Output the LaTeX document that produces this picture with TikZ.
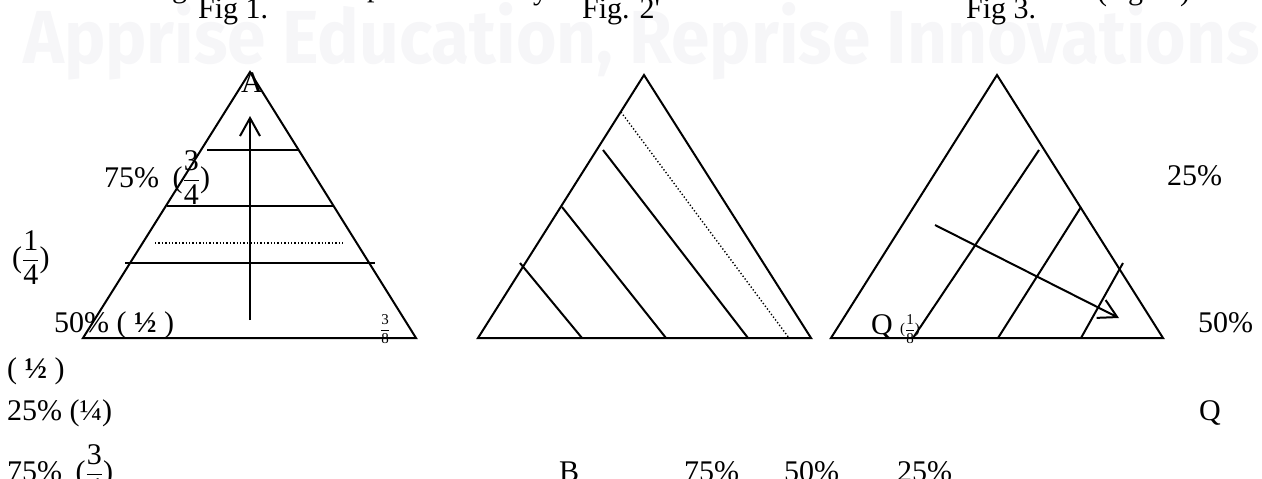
\documentclass[tikz,border=0pt]{standalone}
\usepackage{amsmath}
\usepackage{fontspec}
\setmainfont{Liberation Serif}
\newfontfamily\wmfont{Fira Sans}
\usetikzlibrary{arrows.meta}
\definecolor{wm}{RGB}{246,246,248}
\newcommand\bigfr[2]{$\dfrac{\mbox{#1}}{\mbox{#2}}$}
\tikzset{
  edge/.style={line width=2pt, line join=miter},
  dotline/.style={line width=1.4pt, dash pattern=on 1.3pt off 2.1pt},
  arr/.style={line width=2pt, -{Straight Barb[length=18pt,width=20pt,line width=2pt]}},
  lbl/.style={inner sep=0pt, anchor=base west, font=\fontsize{30}{36}\selectfont},
  sml/.style={inner sep=0pt, font=\fontsize{15}{18}\selectfont},
}
\begin{document}
\begin{tikzpicture}[x=1pt,y=-1pt]
\useasboundingbox (0,0) rectangle (1262,479);
\clip (0,0) rectangle (1262,479);
% watermark
\node[inner sep=0pt, anchor=north west, text=wm] (wmark) at (23,2)
  {\resizebox{1236pt}{61pt}{\wmfont\bfseries Apprise Education, Reprise Innovations}};
% fragments of the line above
\node[lbl] (fg) at (172,-2) {g};
\node[lbl] (fp) at (367,-3) {p};
\node[lbl] (fy) at (533,-1) {y};
\node[lbl] (fo) at (1097,1) {(};
\node[lbl] (fgg) at (1128,-1) {g};
\node[lbl] (fc) at (1180,1) {)};
% titles
\node[lbl] (fig1) at (198,18) {Fig 1.};
\node[lbl] (fig2) at (582,18) {Fig. 2\textquotesingle};
\node[lbl] (fig3) at (966,18) {Fig 3.};

% ---------- Fig 1 ----------
\coordinate (A1) at (250,72);
\coordinate (B1) at (83,338);
\coordinate (C1) at (416,338);
\draw[edge] (A1) -- (B1) -- (C1) -- cycle;
\coordinate (h1a) at (207,150); \coordinate (h1b) at (299,150);
\coordinate (h2a) at (167,206); \coordinate (h2b) at (333,206);
\coordinate (h3a) at (125,263); \coordinate (h3b) at (375,263);
\coordinate (d1a) at (155,243); \coordinate (d1b) at (345,243);
\draw[edge] (h1a) -- (h1b);
\draw[edge] (h2a) -- (h2b);
\draw[edge] (h3a) -- (h3b);
\draw[dotline] (d1a) -- (d1b);
\coordinate (v1s) at (250,320); \coordinate (v1e) at (250,116);
\draw[arr] (v1s) -- (v1e);
\node[lbl] (labA) at (241,92) {A};
\node[lbl] (l75a) at (104,187) {75\%\hspace{0.45em}(\bigfr{3}{4})};
\node[lbl] (lq) at (12,267) {(\bigfr{1}{4})};
\node[lbl] (l50a) at (54,332) {50\% ( \textbf{½} )};
\node[sml] (l38) at (385,329) {\bigfr{3}{8}};
\node[lbl] (lhalf) at (7,378) {( \textbf{½} )};
\node[lbl] (l25a) at (7,420) {25\% (¼)};
\node[lbl] (l75b) at (7,481) {75\%\hspace{0.45em}(\bigfr{3}{4})};

% ---------- Fig 2 ----------
\coordinate (A2) at (644,75);
\coordinate (B2) at (478,338);
\coordinate (C2) at (811,338);
\draw[edge] (A2) -- (B2) -- (C2) -- cycle;
\coordinate (a2s) at (520,263); \coordinate (a2e) at (582,338);
\coordinate (b2s) at (562,207); \coordinate (b2e) at (666,338);
\coordinate (c2s) at (603,150); \coordinate (c2e) at (748,338);
\coordinate (d2s) at (621,112); \coordinate (d2e) at (789,338);
\draw[edge] (a2s) -- (a2e);
\draw[edge] (b2s) -- (b2e);
\draw[edge] (c2s) -- (c2e);
\draw[dotline] (d2s) -- (d2e);
\node[lbl] (labB) at (559,481) {B};
\node[lbl] (b75) at (684,481) {75\%};
\node[lbl] (b50) at (784,481) {50\%};
\node[lbl] (b25) at (897,481) {25\%};

% ---------- Fig 3 ----------
\coordinate (A3) at (997,75);
\coordinate (B3) at (831,338);
\coordinate (C3) at (1163,338);
\draw[edge] (A3) -- (B3) -- (C3) -- cycle;
\coordinate (l1s) at (913,338); \coordinate (l1e) at (1039,150);
\coordinate (l2s) at (998,338); \coordinate (l2e) at (1081,207);
\coordinate (l3s) at (1081,338); \coordinate (l3e) at (1123,263);
\draw[edge] (l1s) -- (l1e);
\draw[edge] (l2s) -- (l2e);
\draw[edge] (l3s) -- (l3e);
\coordinate (r3s) at (935,225); \coordinate (r3e) at (1119,318);
\draw[arr] (r3s) -- (r3e);
\node[lbl] (labQ) at (871,334) {Q};
\node[sml] (l18) at (910,329) {(\bigfr{1}{8})};
\node[lbl] (r25) at (1167,185) {25\%};
\node[lbl] (r50) at (1198,332) {50\%};
\node[lbl] (rQ) at (1199,420) {Q};
\end{tikzpicture}
\end{document}
